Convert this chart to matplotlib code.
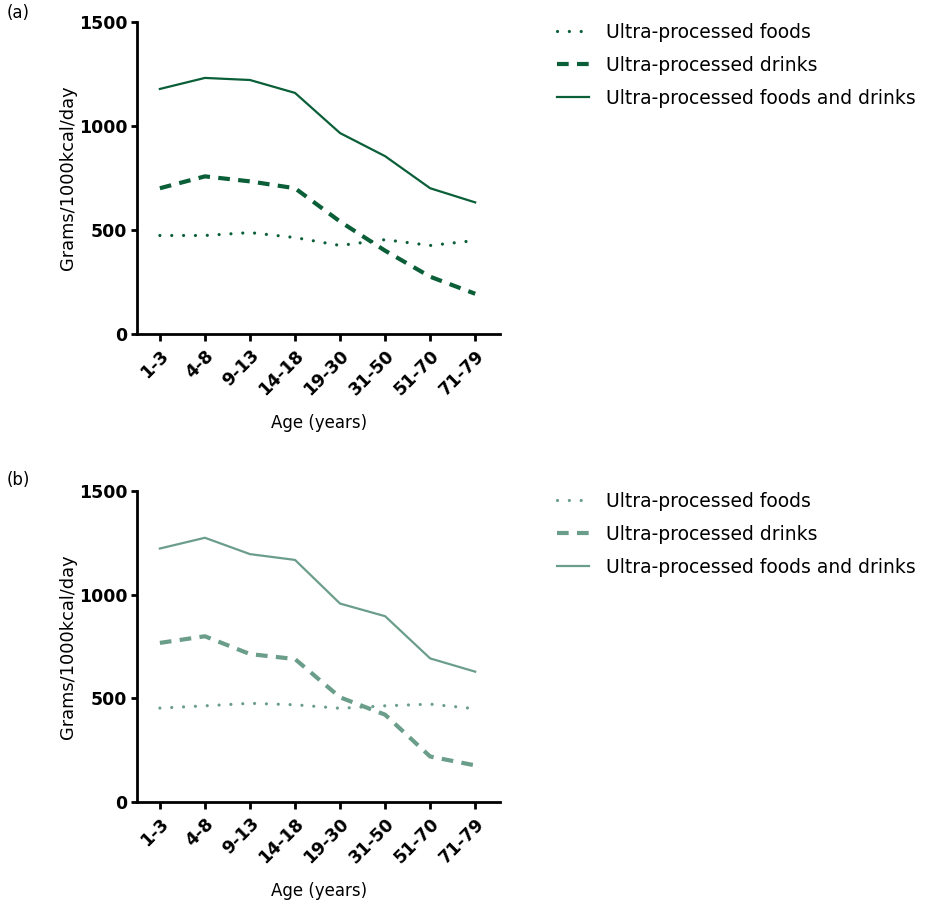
import matplotlib
matplotlib.use("Agg")
import matplotlib.pyplot as plt

ages = ["1-3", "4-8", "9-13", "14-18", "19-30", "31-50", "51-70", "71-79"]
labels = ["Ultra-processed foods", "Ultra-processed drinks", "Ultra-processed foods and drinks"]

# panel (a)
foods_a = [473, 473, 487, 463, 425, 453, 425, 449]
drinks_a = [700, 757, 733, 700, 540, 400, 275, 193]
total_a = [1177, 1230, 1220, 1158, 965, 854, 700, 632]

# panel (b)
foods_b = [453, 464, 476, 469, 452, 464, 472, 450]
drinks_b = [768, 800, 714, 690, 505, 421, 219, 176]
total_b = [1224, 1276, 1197, 1169, 958, 897, 693, 629]

dark = "#0a5f38"
light = "#6b9e8a"

fig = plt.figure(figsize=(9.25, 9.05), dpi=100)

panels = [
    ("(a)", [0.148, 0.631, 0.393, 0.345], foods_a, drinks_a, total_a, dark, 23, 4),
    ("(b)", [0.148, 0.114, 0.393, 0.343], foods_b, drinks_b, total_b, light, 492, 471),
]

for tag, rect, foods, drinks, total, col, legtop, tagtop in panels:
    ax = fig.add_axes(rect)
    x = range(len(ages))
    ax.plot(x, foods, color=col, lw=2.3, linestyle=(0, (0.01, 3.7)),
            dash_capstyle="round", label=labels[0])
    ax.plot(x, drinks, color=col, lw=3.0, linestyle=(0, (2.8, 2.0)), label=labels[1])
    ax.plot(x, total, color=col, lw=1.6, label=labels[2])
    ax.set_xlim(-0.51, 7.56)
    ax.set_ylim(0, 1500)
    ax.set_yticks([0, 500, 1000, 1500])
    ax.set_xticks(list(x))
    ax.set_xticklabels(ages, rotation=45, ha="right", rotation_mode="anchor")
    for s in ["top", "right"]:
        ax.spines[s].set_visible(False)
    for s in ["left", "bottom"]:
        ax.spines[s].set_linewidth(2)
    ax.tick_params(axis="y", width=2, length=4, labelsize=12.5, pad=3)
    ax.tick_params(axis="x", width=2, length=5, labelsize=12.5, pad=4)
    for t in ax.get_xticklabels() + ax.get_yticklabels():
        t.set_fontweight("bold")
    ax.set_ylabel("Grams/1000kcal/day", fontsize=12.8)
    ax.yaxis.set_label_coords(-0.165, 0.5)
    ax.set_xlabel("Age (years)", fontsize=12, labelpad=11)
    ax.legend(loc="upper left", bbox_to_anchor=(557 / 925, 1 - legtop / 905),
              bbox_transform=fig.transFigure, frameon=False, fontsize=13.5,
              borderpad=0, borderaxespad=0, handlelength=1.7,
              handletextpad=0.9, labelspacing=0.74)
    fig.text(7 / 925, 1 - tagtop / 905, tag, fontsize=12, va="top", ha="left")

fig.savefig("out.png", dpi=100)
